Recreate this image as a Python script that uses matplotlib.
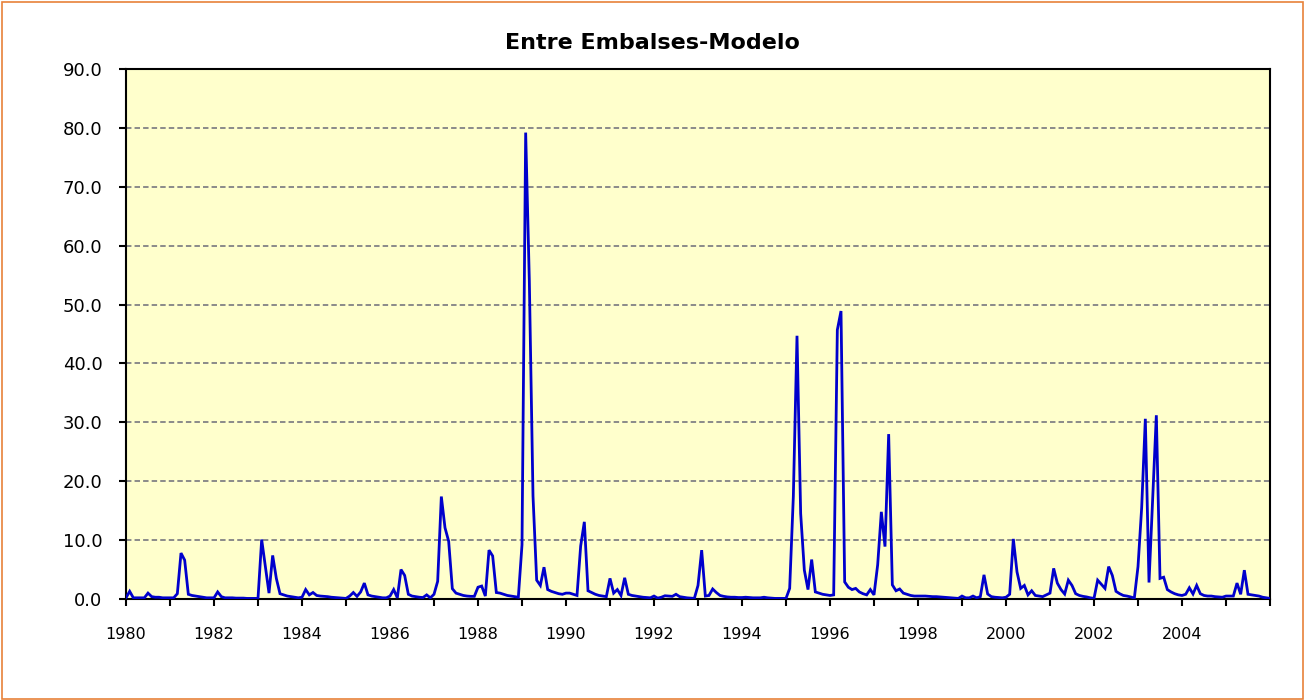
import numpy as np
import matplotlib
matplotlib.use("Agg")
import matplotlib.pyplot as plt
from matplotlib.patches import Rectangle
from matplotlib.ticker import FixedLocator, FuncFormatter

title = "Entre Embalses-Modelo"
start_year = 1980
end_year = 2006

flow_1980s = [
    0.2, 1.3, 0.2, 0.2, 0.2, 0.2, 1.0, 0.4, 0.3, 0.3, 0.2, 0.2,
    0.2, 0.2, 0.9, 7.8, 6.6, 0.8, 0.6, 0.5, 0.4, 0.3, 0.2, 0.2,
    0.2, 1.2, 0.4, 0.2, 0.2, 0.2, 0.15, 0.15, 0.15, 0.1, 0.1, 0.1,
    0.1, 10.1, 5.5, 1.0, 7.4, 3.5, 0.9, 0.7, 0.5, 0.4, 0.3, 0.2,
    0.3, 1.6, 0.7, 1.1, 0.6, 0.5, 0.45, 0.4, 0.3, 0.25, 0.2, 0.15,
    0.1, 0.5, 1.1, 0.45, 1.2, 2.7, 0.7, 0.5, 0.4, 0.3, 0.2, 0.2,
    0.5, 1.6, 0.2, 5.0, 4.0, 0.8, 0.5, 0.4, 0.3, 0.25, 0.7, 0.2,
    0.8, 3.0, 17.4, 12.1, 9.8, 1.75, 1.0, 0.8, 0.6, 0.5, 0.45, 0.45,
    2.0, 2.2, 0.5, 8.3, 7.3, 1.1, 1.0, 0.8, 0.6, 0.5, 0.4, 0.3,
    9.2, 79.2, 54.0, 17.5, 3.2, 2.3, 5.4, 1.6, 1.3, 1.1, 0.9, 0.8,
]

flow_1990s = [
    1.0, 1.0, 0.8, 0.6, 9.0, 13.1, 1.4, 1.1, 0.8, 0.6, 0.5, 0.4,
    3.5, 1.0, 1.6, 0.6, 3.6, 0.8, 0.6, 0.5, 0.4, 0.3, 0.25, 0.2,
    0.5, 0.15, 0.3, 0.55, 0.5, 0.45, 0.8, 0.4, 0.3, 0.2, 0.15, 0.1,
    2.3, 8.3, 0.5, 0.6, 1.7, 1.1, 0.6, 0.45, 0.35, 0.3, 0.3, 0.25,
    0.25, 0.3, 0.25, 0.2, 0.2, 0.2, 0.3, 0.2, 0.15, 0.1, 0.1, 0.1,
    0.1, 1.8, 17.4, 44.7, 14.5, 4.9, 1.6, 6.7, 1.2, 1.0, 0.8, 0.7,
    0.6, 0.7, 45.7, 48.9, 2.9, 2.0, 1.6, 1.8, 1.2, 0.9, 0.7, 1.6,
    0.7, 5.8, 14.8, 8.9, 28.0, 2.4, 1.4, 1.7, 1.0, 0.8, 0.6, 0.5,
    0.5, 0.5, 0.5, 0.45, 0.4, 0.4, 0.35, 0.3, 0.25, 0.2, 0.15, 0.1,
    0.5, 0.2, 0.2, 0.5, 0.2, 0.4, 4.1, 0.85, 0.4, 0.3, 0.25, 0.2,
]

flow_2000s = [
    0.3, 0.8, 10.2, 4.6, 1.8, 2.3, 0.7, 1.4, 0.6, 0.5, 0.4, 0.7,
    1.0, 5.2, 2.7, 1.6, 0.85, 3.2, 2.3, 0.9, 0.6, 0.45, 0.35, 0.2,
    0.1, 3.2, 2.5, 1.8, 5.5, 4.0, 1.3, 0.9, 0.6, 0.5, 0.35, 0.15,
    5.5, 15.5, 30.6, 2.8, 17.0, 31.2, 3.5, 3.7, 1.6, 1.2, 0.9, 0.7,
    0.6, 0.8, 1.9, 0.85, 2.3, 0.9, 0.6, 0.5, 0.5, 0.4, 0.35, 0.3,
    0.5, 0.5, 0.5, 2.7, 0.8, 4.9, 0.8, 0.7, 0.6, 0.5, 0.3, 0.2,
    0.1,
]

y_ticks = [0, 10, 20, 30, 40, 50, 60, 70, 80, 90]

flow = np.array(flow_1980s + flow_1990s + flow_2000s)
months = np.arange(len(flow))

W, H = 1305, 700
fig = plt.figure(figsize=(W / 100, H / 100), dpi=100)
fig.patch.set_facecolor("white")

left, right, top, bottom = 126, 1270, 69, 599
ax = fig.add_axes([left / W, 1 - bottom / H, (right - left) / W, (bottom - top) / H])
ax.set_facecolor("#FFFFCC")

ax.plot(months, flow, color="#0000CC", lw=2.0, solid_joinstyle="miter", zorder=3)

n_months = (end_year - start_year) * 12
ax.set_xlim(0, n_months)
ax.set_ylim(0, 90)

ax.set_yticks(y_ticks)
ax.yaxis.set_major_formatter(FuncFormatter(lambda v, p: f"{v:.1f}"))
ax.yaxis.grid(True, color="#8A8A8A", lw=1.4, linestyle=(0, (2.8, 1.6)), zorder=1)
ax.xaxis.grid(False)

year_pos = np.arange(0, n_months + 1, 12)
ax.xaxis.set_major_locator(FixedLocator(year_pos))
labels = []
for p in year_pos:
    yr = start_year + p // 12
    labels.append(str(yr) if (yr % 2 == 0 and yr < end_year) else "")
ax.set_xticklabels(labels)

ax.tick_params(axis="y", direction="out", length=5, width=1.5, labelsize=13, pad=12, colors="black")
ax.tick_params(axis="x", direction="out", length=5, width=1.5, labelsize=11.5, pad=15, colors="black")

for s in ax.spines.values():
    s.set_color("black")
    s.set_linewidth(1.5)

fig.text(0.5, 1 - 43 / H, title, ha="center", va="center", fontsize=16, fontweight="bold")

fig.patches.append(Rectangle((0.0015, 0.002), 0.997, 0.995, transform=fig.transFigure,
                             fill=False, edgecolor="#E8823A", lw=1.2))

fig.savefig("out.png", dpi=100, facecolor="white")
